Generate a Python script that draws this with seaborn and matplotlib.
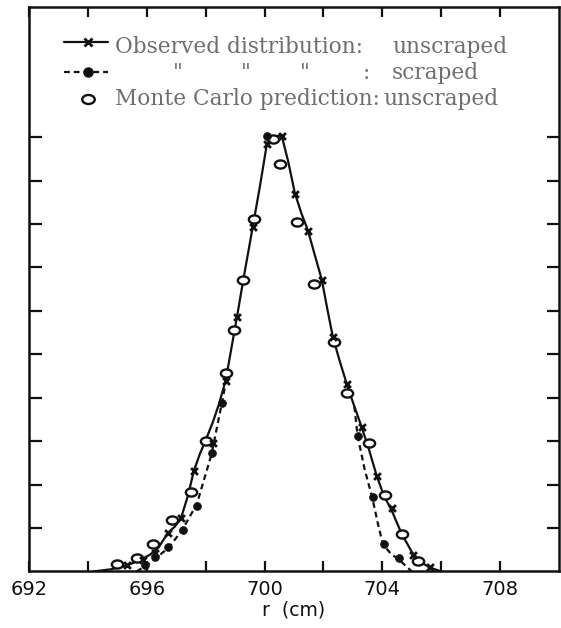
import matplotlib
matplotlib.use("Agg")
import matplotlib.pyplot as plt
import pandas as pd
import seaborn as sns
from matplotlib.path import Path
from matplotlib.transforms import Affine2D

# Observed radial distribution, unscraped beam (x markers)
obs_r = [695.33, 695.87, 696.28, 696.72, 697.16, 697.60, 698.24, 698.68, 699.06,
         699.60, 700.08, 700.58, 701.03, 701.47, 701.94, 702.32, 702.79, 703.30,
         703.81, 704.32, 705.05, 705.62]
obs_n = [0.14, 0.27, 0.43, 0.89, 1.22, 2.32, 2.96, 4.38, 5.85,
         7.94, 9.84, 10.02, 8.69, 7.84, 6.72, 5.39, 4.31, 3.33,
         2.20, 1.47, 0.38, 0.11]

# Hand-drawn smooth curve through the unscraped observations
obs_curve_r = [694.20, 694.80, 695.30, 695.70, 696.10, 696.40, 696.72, 696.95,
               697.16, 697.40, 697.60, 697.80, 698.00, 698.25, 698.45, 698.68,
               699.06, 699.30, 699.60, 699.85, 700.08, 700.30, 700.58, 700.80,
               701.03, 701.25, 701.47, 701.70, 701.94, 702.13, 702.32, 702.55,
               702.79, 703.05, 703.30, 703.55, 703.81, 704.05, 704.32, 704.66,
               705.00, 705.30, 705.60, 706.00]
obs_curve_n = [0.00, 0.05, 0.13, 0.24, 0.38, 0.55, 0.89, 1.03,
               1.22, 1.75, 2.32, 2.70, 3.02, 3.45, 3.85, 4.40,
               5.85, 6.80, 7.94, 8.90, 9.85, 10.02, 10.04, 9.45,
               8.71, 8.25, 7.86, 7.30, 6.73, 6.05, 5.40, 4.85,
               4.32, 3.80, 3.32, 2.80, 2.20, 1.75, 1.40, 0.86,
               0.45, 0.22, 0.09, 0.00]

# Observed radial distribution, scraped beam (filled dots)
scr_r = [695.95, 696.28, 696.72, 697.23, 697.70, 698.21, 698.55, 700.08,
         703.16, 703.67, 704.05, 704.55]
scr_n = [0.14, 0.34, 0.57, 0.96, 1.51, 2.73, 3.88, 10.02,
         3.12, 1.72, 0.62, 0.30]

# Dashed tails of the scraped curve, where it leaves the unscraped one
scr_left_r = [695.65, 696.00, 696.30, 696.75, 697.20, 697.70, 698.20, 698.55, 698.75]
scr_left_n = [0.00, 0.14, 0.30, 0.55, 0.95, 1.55, 2.70, 3.88, 4.60]
scr_right_r = [703.05, 703.16, 703.40, 703.65, 703.85, 704.02, 704.30, 704.55, 705.00]
scr_right_n = [3.80, 3.12, 2.35, 1.72, 1.10, 0.62, 0.40, 0.28, 0.00]

# Monte Carlo prediction, unscraped beam (open circles)
mc_r = [694.99, 695.66, 696.21, 696.85, 697.50, 698.01, 698.68, 698.96, 699.26,
        699.63, 700.28, 700.52, 701.09, 701.67, 702.35, 702.79, 703.54, 704.08,
        704.66, 705.22]
mc_n = [0.16, 0.32, 0.64, 1.19, 1.83, 3.00, 4.56, 5.57, 6.72,
        8.12, 9.95, 9.38, 8.05, 6.61, 5.28, 4.11, 2.96, 1.77,
        0.87, 0.23]

x_ticks = [692, 694, 696, 698, 700, 702, 704, 706, 708]
x_tick_labels = ["692", "", "696", "", "700", "", "704", "", "708"]
y_ticks = [1, 2, 3, 4, 5, 6, 7, 8, 9, 10]

sns.set_style("ticks")
plt.rcParams["font.family"] = ["DejaVu Sans"]

W, H = 561, 628
fig = plt.figure(figsize=(W / 100, H / 100), dpi=100)
ax_l, ax_r, ax_t, ax_b = 29, 559, 7, 571.4
ax = fig.add_axes([ax_l / W, (H - ax_b) / H, (ax_r - ax_l) / W, (ax_b - ax_t) / H])

ink = "#111111"
lw = 1.6
dash = (0, (2.6, 1.8))

solid = pd.DataFrame({"r": obs_curve_r, "n": obs_curve_n})
sns.lineplot(data=solid, x="r", y="n", ax=ax, color=ink, lw=lw,
             estimator=None, sort=False)

for tr_r, tr_n in ((scr_left_r, scr_left_n), (scr_right_r, scr_right_n)):
    tail = pd.DataFrame({"r": tr_r, "n": tr_n})
    sns.lineplot(data=tail, x="r", y="n", ax=ax, color=ink, lw=lw,
                 linestyle=dash, estimator=None, sort=False)

ellipse = Path.unit_circle().transformed(Affine2D().scale(1.0, 0.72))

sns.scatterplot(x=mc_r, y=mc_n, ax=ax, marker=ellipse, s=66,
                facecolor="white", edgecolor=ink, linewidth=1.7, zorder=4)
sns.scatterplot(x=scr_r, y=scr_n, ax=ax, marker="o", s=32,
                color=ink, edgecolor=ink, linewidth=0.5, zorder=5)
sns.scatterplot(x=obs_r, y=obs_n, ax=ax, marker="x", s=24,
                color=ink, linewidth=2.0, zorder=6)

ax.set_xlim(692, 710)
ax.set_ylim(0, 13)
ax.set_xticks(x_ticks)
ax.set_xticklabels(x_tick_labels)
ax.set_yticks(y_ticks)
ax.set_yticklabels([])
ax.tick_params(axis="both", direction="in", length=7, width=1.6,
               top=True, right=True, colors=ink, labelsize=14, pad=6)
ax.tick_params(axis="y", length=9)
for sp in ax.spines.values():
    sp.set_visible(True)
    sp.set_linewidth(1.8)
    sp.set_color(ink)
ax.set_xlabel("r  (cm)", fontsize=13.5, color=ink, labelpad=1)
ax.set_ylabel("")


def frac(px, py):
    return ((px - ax_l) / (ax_r - ax_l), (ax_b - py) / (ax_b - ax_t))


# Key symbols
kx0, kx1, kxm = frac(64, 0)[0], frac(108, 0)[0], frac(87.5, 0)[0]
ky1, ky2, ky3 = frac(0, 42)[1], frac(0, 72)[1], frac(0, 99)[1]
tr = ax.transAxes
ax.plot([kx0, kx1], [ky1, ky1], color=ink, lw=lw, transform=tr, clip_on=False)
ax.plot([kxm], [ky1], marker="x", ms=5.5, mew=2.0, color=ink, transform=tr)
ax.plot([kx0, kx1], [ky2, ky2], color=ink, lw=lw, linestyle=dash,
        transform=tr, clip_on=False)
ax.plot([kxm], [ky2], marker="o", ms=6.5, color=ink, transform=tr)
ax.plot([kxm], [ky3], marker=ellipse, ms=9.0, mfc="white", mec=ink, mew=1.7,
        transform=tr)

# Key text
grey = "#6f6f6f"
tkw = dict(transform=tr, family="DejaVu Serif", fontsize=15.6, color=grey,
           va="baseline")
ax.text(*frac(115, 53), "Observed distribution:", ha="left", **tkw)
ax.text(*frac(392, 53), "unscraped", ha="left", **tkw)
for qx in (178, 246, 305):
    ax.text(*frac(qx, 79), '"', ha="center", **tkw)
ax.text(*frac(366, 79), ":", ha="center", **tkw)
ax.text(*frac(392, 79), "scraped", ha="left", **tkw)
ax.text(*frac(115, 105), "Monte Carlo prediction:", ha="left", **tkw)
ax.text(*frac(383, 105), "unscraped", ha="left", **tkw)

fig.savefig("out.png", dpi=100, facecolor="white")
